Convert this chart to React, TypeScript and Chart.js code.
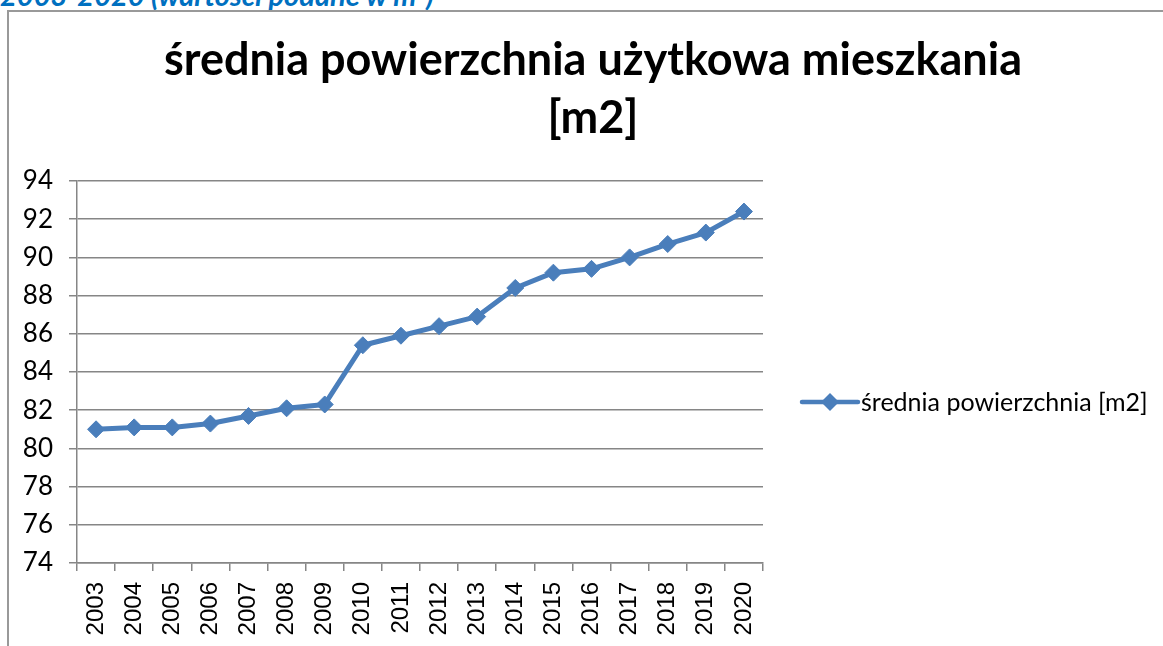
import React, { useEffect, useRef } from "react";
import { Chart, registerables } from "chart.js";

Chart.register(...registerables);

const years = [
  "2003", "2004", "2005", "2006", "2007", "2008", "2009", "2010", "2011",
  "2012", "2013", "2014", "2015", "2016", "2017", "2018", "2019", "2020",
];
const avgArea = [
  81.0, 81.1, 81.1, 81.3, 81.7, 82.1, 82.3, 85.4, 85.9,
  86.4, 86.9, 88.4, 89.2, 89.4, 90.0, 90.7, 91.3, 92.4,
];
const yMin = 74;
const yMax = 94;
const yStep = 2;
const titleLines = ["średnia powierzchnia użytkowa mieszkania", "[m2]"];
const seriesLabel = "średnia powierzchnia [m2]";
const headerText = "2003-2020 (wartości podane w m²)";

const LINE_COLOR = "#4A7EBB";
const GRID_COLOR = "#868686";

const sideLegend = {
  id: "sideLegend",
  afterDraw(chart: any) {
    const { ctx, chartArea } = chart;
    const ds = chart.data.datasets[0];
    const x0 = chartArea.right + 39;
    const y = chartArea.top + 221;
    ctx.save();
    ctx.strokeStyle = LINE_COLOR;
    ctx.lineWidth = 4.5;
    ctx.lineCap = "round";
    ctx.beginPath();
    ctx.moveTo(x0, y);
    ctx.lineTo(x0 + 56, y);
    ctx.stroke();
    const cx = x0 + 28;
    const r = 9;
    ctx.fillStyle = LINE_COLOR;
    ctx.beginPath();
    ctx.moveTo(cx - r, y);
    ctx.lineTo(cx, y - r);
    ctx.lineTo(cx + r, y);
    ctx.lineTo(cx, y + r);
    ctx.closePath();
    ctx.fill();
    ctx.fillStyle = "#000";
    ctx.font = "25px Lato";
    ctx.textAlign = "left";
    ctx.textBaseline = "middle";
    ctx.fillText(ds.label, x0 + 59, y + 1);
    ctx.restore();
  },
};

export default function App() {
  const ref = useRef<HTMLCanvasElement | null>(null);

  useEffect(() => {
    if (!ref.current) return;
    const chart = new Chart(ref.current, {
      type: "line",
      data: {
        labels: years,
        datasets: [
          {
            label: seriesLabel,
            data: avgArea,
            borderColor: LINE_COLOR,
            backgroundColor: LINE_COLOR,
            borderWidth: 5,
            borderJoinStyle: "round",
            borderCapStyle: "round",
            pointStyle: "rectRot",
            pointRadius: 8.5,
            pointBorderWidth: 1,
            pointBackgroundColor: LINE_COLOR,
            pointBorderColor: LINE_COLOR,
            tension: 0,
            yAxisID: "y",
          },
        ],
      },
      options: {
        animation: false,
        responsive: false,
        maintainAspectRatio: false,
        layout: { padding: 0 },
        plugins: {
          legend: { display: false },
          tooltip: { enabled: false },
          title: {
            display: true,
            text: titleLines,
            color: "#000",
            font: { family: "Lato", size: 45, weight: "bold", lineHeight: 58 / 45 },
            padding: { top: 19, bottom: 34 },
          },
        },
        scales: {
          x: {
            type: "category",
            offset: true,
            afterFit: (s: any) => {
              s.height = 83;
            },
            grid: {
              offset: true,
              drawOnChartArea: false,
              drawTicks: true,
              tickLength: 8,
              color: GRID_COLOR,
              lineWidth: 1.5,
            },
            border: { display: true, color: GRID_COLOR, width: 1.5 },
            ticks: {
              autoSkip: false,
              minRotation: 90,
              maxRotation: 90,
              padding: 11,
              color: "#000",
              font: { family: "Liberation Sans", size: 24 },
            },
          },
          y: {
            min: yMin,
            max: yMax,
            afterFit: (s: any) => {
              s.width = 68;
            },
            grid: {
              drawOnChartArea: true,
              drawTicks: true,
              tickLength: 8,
              color: GRID_COLOR,
              lineWidth: 1.5,
            },
            border: { display: true, color: GRID_COLOR, width: 1.5 },
            ticks: {
              stepSize: yStep,
              padding: 16,
              color: "#000",
              font: { family: "Lato", size: 26 },
            },
          },
          legendSpace: {
            type: "linear",
            position: "right",
            display: true,
            min: yMin,
            max: yMax,
            afterFit: (s: any) => {
              s.width = 414;
            },
            grid: { display: false, drawTicks: false },
            border: { display: false },
            ticks: { display: false },
          },
        },
      },
      plugins: [sideLegend],
    });
    return () => chart.destroy();
  }, []);

  return (
    <div
      style={{
        position: "fixed",
        left: 0,
        top: 0,
        width: 1163,
        height: 646,
        overflow: "hidden",
        background: "#fff",
      }}
    >
      <div
        style={{
          position: "absolute",
          left: 0,
          top: -20,
          fontFamily: "Lato",
          fontWeight: "bold",
          fontStyle: "italic",
          fontSize: 29,
          lineHeight: "29px",
          color: "#0070C0",
          whiteSpace: "nowrap",
        }}
      >
        {headerText}
      </div>
      <div
        style={{
          position: "absolute",
          left: 7,
          top: 10,
          width: 1300,
          height: 1000,
          borderLeft: "2px solid #999",
          borderTop: "2px solid #999",
        }}
      />
      <canvas
        ref={ref}
        width={1168}
        height={634}
        style={{ position: "absolute", left: 9, top: 12, width: 1168, height: 634 }}
      />
    </div>
  );
}
